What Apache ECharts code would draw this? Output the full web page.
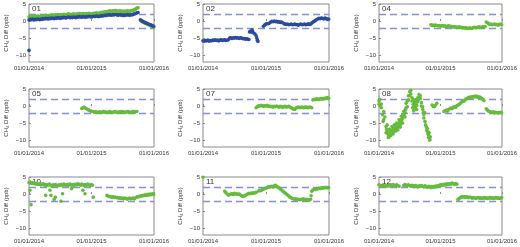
<!DOCTYPE html>
<html>
<head>
<meta charset="utf-8">
<script src="https://cdn.jsdelivr.net/npm/echarts@6/dist/echarts.min.js"></script>
<style>
  html, body { margin: 0; padding: 0; background: #fff; }
  #main { width: 520px; height: 247px; }
</style>
</head>
<body>
<div id="main"></div>
<script>
// weekly samples, index 0 = 01/01/2014
const xTicks = [Date.UTC(2014, 0, 1), Date.UTC(2015, 0, 1), Date.UTC(2016, 0, 1)];
const xTickLabels = ['01/01/2014', '01/01/2015', '01/01/2016'];
const yTicks = [-10, -5, 0, 5];
const limits = [2, -2];
const panelLabels = ['01', '02', '04', '05', '07', '08', '10', '11', '12'];

const p01Green = [1.2,1.4,1.3,1.5,1.2,1.4,1.3,1.5,1.4,1.3,1.5,
  1.4,1.6,1.5,1.7,1.6,1.5,1.7,1.6,1.8,1.7,1.6,1.8,1.7,1.9,1.8,
  1.7,1.9,1.8,2.0,1.9,1.8,2.0,2.1,1.9,2.0,1.9,2.1,2.0,1.9,2.1,2.0,2.2,2.1,2.0,2.2,2.1,2.0,2.2,2.1,2.3,2.2,2.1,
  2.2,2.3,2.2,2.4,2.3,2.2,2.4,2.4,2.6,2.5,2.7,2.6,2.8,2.8,3.0,2.9,2.8,3.0,
  2.9,3.1,3.0,2.8,2.9,3.0,2.8,2.9,2.7,2.9,2.8,3.0,2.9,2.8,3.0,3.0,3.2,3.3,3.5,3.8,
  3.9,null,0.2,-0.1,-0.3,-0.5,-0.7,-0.8,-1.0,-1.1,-1.3,-1.5,-1.7,-1.9];
const p01Blue = [0.3,0.5,0.4,0.6,0.3,0.5,0.4,0.6,0.5,0.4,0.6,
  0.5,0.7,0.6,0.8,0.7,0.6,0.8,0.7,0.9,0.8,0.7,0.9,0.8,1.0,0.9,
  0.8,1.0,0.9,1.1,1.0,0.9,1.1,1.2,1.0,1.1,1.0,1.2,1.1,1.0,1.2,1.1,1.3,1.2,1.1,1.3,1.2,1.1,1.3,1.2,1.4,1.3,1.2,
  1.3,1.4,1.3,1.5,1.4,1.3,1.5,1.4,1.6,1.5,1.7,1.6,1.8,1.7,1.9,1.8,1.7,1.9,
  1.8,2.0,1.9,1.7,1.8,1.9,1.7,1.8,1.6,1.8,1.7,1.9,1.8,1.7,1.9,1.8,2.0,2.1,2.2,2.4,
  2.5,null,0.4,0.1,-0.1,-0.3,-0.5,-0.6,-0.8,-0.9,-1.1,-1.2,-1.4,-1.5];
const p01BlueOut = [[0, -8.6]];

const p02Blue = [-5.8,-5.9,-5.7,-5.8,-5.6,-5.9,-5.7,-5.8,-5.6,-5.7,-5.5,-5.7,-5.6,-5.8,-5.6,-5.5,-5.7,-5.6,-5.5,-5.7,-5.6,-5.5,
  -5.0,-4.9,-5.1,-4.9,-5.0,-4.8,-5.0,-4.9,-5.1,-4.9,-5.0,-5.2,-5.1,-5.3,-5.2,
  -5.3,-5.4,-3.0,-3.3,-2.9,-3.5,-3.8,-4.3,-5.6,null,
  null,null,null,
  -1.5,-1.2,-0.9,-0.7,-0.8,-0.6,
  -0.3,-0.1,-0.2,0.0,-0.2,-0.1,-0.3,-0.2,-0.4,-0.3,-0.5,
  -0.8,-0.9,-1.0,-0.9,-1.1,-1.0,-0.9,-1.1,-1.0,-0.9,-1.1,-1.0,-1.2,-1.0,-0.9,-1.1,-1.0,-0.9,-1.1,-1.0,-0.8,-1.0,-0.9,
  -0.6,-0.3,-0.1,0.2,0.4,
  0.6,0.8,0.7,0.9,0.8,0.6,0.9,0.7,0.5,0.6];
const p02Out = [[38.5, -3.2], [40.5, -2.6], [44.5, -5.0], [45.5, -6.0]];

const p04Start = 44;
const p04 = [-1.1,-1.3,-1.2,-1.4,-1.2,-1.3,-1.4,-1.3,-1.5,-1.4,-1.3,-1.5,-1.4,-1.6,-1.5,-1.4,-1.6,-1.5,-1.7,
  -1.6,-1.8,-1.7,-1.9,-1.8,-1.7,-1.9,-1.8,-2.0,-1.9,-2.1,-2.0,-2.2,-2.1,-2.0,-2.2,-2.1,
  -1.9,-1.8,-2.0,-1.8,-1.9,-1.7,-1.8,-1.9,-1.7,-1.8,-1.6,
  -0.3,-0.5,-0.8,-1.0,-0.9,-1.1,-1.0,-0.9,-1.1,-1.0,-1.2,-1.0,-0.9,-1.1];

const p05Start = 44;
const p05 = [-0.7,-0.5,-0.4,-0.6,-0.8,-1.0,-1.2,-1.4,-1.5,-1.6,-1.7,-1.8,-1.7,
  -1.9,-1.8,-1.7,-1.9,-1.8,-1.6,-1.8,-1.7,-1.9,-1.8,-1.6,-1.7,-1.9,-1.8,-1.7,-1.6,-1.8,-1.9,-1.7,-1.8,-1.6,-1.8,-1.7,-1.9,-1.8,-1.6,-1.7,-1.8,-1.9,-1.7,-1.6,-1.8,-1.7,-1.6];

const p07Start = 44;
const p07 = [-0.5,-0.2,0.1,
  0.0,0.2,0.1,-0.1,0.1,0.0,0.2,-0.1,0.0,
  -0.2,-0.1,-0.3,-0.1,-0.2,0.0,-0.2,-0.3,-0.1,-0.2,-0.4,-0.2,-0.1,-0.3,-0.2,-0.1,-0.3,-0.5,-0.7,-0.9,-1.0,-0.6,
  -0.4,-0.3,-0.5,-0.4,-0.3,-0.5,-0.4,-0.3,-0.4,-0.5,-0.3,-0.4,-0.5,
  1.8,2.0,1.9,2.1,2.0,1.9,2.1,2.2,2.0,2.3,2.2,2.4,2.5,2.3];

const p08 = [1.5,
  0.3,-0.5,-2.5,-4.0,-3.2,
  -6.0,-7.5,-8.8,-8.5,-7.8,-7.2,-7.5,-6.8,-6.3,-6.6,-5.8,-5.2,-5.5,-4.2,-3.5,-2.8,-1.8,-0.5,1.5,3.0,4.2,3.5,
  1.5,0.5,0.0,0.8,0.2,2.5,3.4,2.2,1.0,
  -1.0,-2.5,-4.5,-6.0,-7.5,-8.5,-9.6,
  null,
  0.3,-0.1,-0.2,0.3,0.8,
  null,null,null,null,null,
  -1.6,-1.4,-1.2,-1.5,-1.0,-0.8,
  -0.6,-0.8,-0.4,-0.2,-0.4,0.1,0.3,0.5,0.8,
  1.2,1.5,1.4,1.8,2.1,2.3,2.6,2.4,2.7,2.6,2.8,
  2.7,2.9,2.6,2.8,2.5,2.6,2.3,2.0,1.6,
  null,
  -0.8,-1.2,-1.5,-1.6,
  -1.8,-1.9,-1.7,-2.0,-1.8,-1.9,-2.1,-1.9,-1.8,-2.0];
const p08Out = [[0, 0.5], [0.5, 2.0], [2, 0.6], [3.5, -4.5], [4, -1.6],
  [6, -7.8], [6.5, -6.8], [7, -5.5], [7.5, -8.2], [8, -9.2], [8.5, -9.0], [9, -6.8], [9.5, -7.2], [10, -8.6], [10.5, -7.0],
  [11, -6.0], [11.5, -7.8], [12, -8.2], [12.5, -6.5], [13, -5.5], [13.5, -7.0], [14, -7.4], [14.5, -5.8], [15, -5.0], [15.5, -6.2],
  [16, -7.0], [16.5, -5.5], [17, -4.0], [17.5, -4.8], [18, -6.2], [18.5, -5.0], [19, -3.0], [19.5, -3.8], [20, -5.0], [20.5, -2.5],
  [21, -1.5], [21.5, -2.2], [22, -3.2], [22.5, -1.0], [23, 0.8], [24, -0.2], [25, 1.8], [26, 3.0], [27, 4.6],
  [28, 2.4], [28.5, -0.5], [29, 1.8], [29.5, -1.4], [30, 1.2], [30.5, -0.8], [31, -0.3], [31.5, 1.9], [32, -1.0], [32.5, 1.2],
  [33, 1.5], [34, 2.0], [35, 3.0], [36, 0.0],
  [37, -0.2], [37.5, -2.0], [38, -3.5], [38.5, -1.8], [39.5, -5.5], [40.5, -7.0], [41, -6.5], [41.5, -8.2], [42, -9.2], [42.5, -7.8],
  [43, -10.0], [43.5, -9.0]];

const p10a = [3.3,3.5,3.1,3.3,3.0,3.2,2.9,3.1,2.8,3.0,2.7,2.9,3.0,2.6,2.8,2.5,2.7,2.9,2.6,2.4,
  2.7,2.5,2.8,2.6,2.4,2.7,2.5,2.8,2.6,2.9,2.7,2.5,2.8,2.6,2.9,2.7,2.5,2.8,2.6,2.9,
  2.7,3.0,2.8,2.6,2.9,2.7,2.5,2.8,2.6,2.9,2.7,2.5,2.8,2.6];
const p10bStart = 65;
const p10b = [-0.4,-0.6,-0.8,-0.7,-0.9,-0.8,-1.0,-0.9,-1.1,-1.0,-1.2,-1.1,-1.3,-1.2,-1.4,-1.2,-1.3,-1.5,-1.3,-1.2,
  -1.4,-1.3,-1.2,-1.4,-1.1,-0.9,-0.7,-0.8,-0.5,-0.6,-0.4,-0.5,-0.2,-0.4,-0.1,-0.3,0.0,-0.2,0.1,-0.1];
const p10Out = [[0.8, 1.1], [1.7, -3.1], [13.9, -0.4], [17.5, 1.1], [18.3, -0.4], [21, -1.6], [22, -0.9],
  [26.7, -2.1], [28, 0.1], [35.5, 1.6], [45, 1.1], [46.7, 0.1], [53.6, -0.9]];

const p11Start = 18;
const p11 = [0.8,0.4,0.0,-0.3,-0.2,
  0.0,0.1,-0.1,0.2,0.0,0.1,-0.1,0.0,-0.3,-0.5,
  -0.7,-0.6,-0.4,-0.2,
  0.0,0.2,0.1,0.3,0.2,0.4,0.3,0.5,
  null,
  0.9,1.1,1.0,1.3,1.4,1.6,1.7,1.9,
  2.1,2.0,2.2,2.3,2.1,2.4,2.6,2.3,
  2.0,1.8,1.5,1.2,0.9,0.6,0.3,
  0.0,-0.3,-0.6,-0.9,-1.1,-1.3,-1.4,
  -1.5,-1.4,-1.6,-1.5,-1.7,-1.5,-1.6,-1.4,-1.6,-1.7,-1.5,-1.6,-1.8,-1.5,
  0.8,1.2,
  1.4,1.3,1.6,1.5,1.7,1.6,1.8,1.7,1.9,1.8,2.0,1.8,1.9];
const p11Out = [[0, 4.9], [89.5, -0.5]];

const p12a = [2.7,2.5,2.3,2.6,2.4,2.2,2.5,2.3,2.6,2.4,2.7,2.5,2.8,2.6,2.4,2.7,2.5,2.3];
const p12bStart = 21;
const p12b = [2.5,2.8,2.6,2.4,2.7,2.5,2.3,2.6,2.4,2.2,2.5,2.3,2.1,2.4,2.2,2.5,2.3,2.1,2.4,2.2,
  2.0,2.3,2.1,1.9,2.2,2.0,2.3,2.1,2.4,2.2,2.5,2.7,2.5,2.8,2.6,2.9,2.7,3.0,2.8,3.1,
  2.9,3.2,3.0,2.8,3.1,2.9];
const p12cStart = 67;
const p12c = [-1.6,-1.3,-1.0,-0.8,-0.9,-0.7,-1.0,-0.8,-0.9,-1.1,-0.9,-1.0,-1.2,-1.0,-1.1,-1.3,-1.1,-1.0,-1.2,-1.1,
  -1.3,-1.2,-1.0,-1.2,-1.1,-1.3,-1.2,-1.0,-1.2,-1.1,-1.3,-1.2,-1.0,-1.2,-1.1,-1.3,-1.2,-1.0];

const GREEN = '#66bb3c';
const BLUE = '#2b4b9e';
const DASH = '#8891d0';
const FONT = 'Liberation Sans, Arial, sans-serif';
const WEEK = 7 * 864e5;

function weekly(start, vals) {
  const out = [];
  vals.forEach((v, i) => { if (v != null) out.push([xTicks[0] + (start + i) * WEEK, v]); });
  return out;
}
function loose(list) {
  return list.map(p => [xTicks[0] + p[0] * WEEK, p[1]]);
}

// each panel: list of [colour, points]
const panelData = [
  [[GREEN, weekly(0, p01Green)], [BLUE, weekly(0, p01Blue)], [BLUE, loose(p01BlueOut)]],
  [[BLUE, weekly(0, p02Blue)], [BLUE, loose(p02Out)]],
  [[GREEN, weekly(p04Start, p04)]],
  [[GREEN, weekly(p05Start, p05)]],
  [[GREEN, weekly(p07Start, p07)]],
  [[GREEN, weekly(0, p08)], [GREEN, loose(p08Out)]],
  [[GREEN, weekly(0, p10a)], [GREEN, weekly(p10bStart, p10b)], [GREEN, loose(p10Out)]],
  [[GREEN, weekly(p11Start, p11)], [GREEN, loose(p11Out)]],
  [[GREEN, weekly(0, p12a)], [GREEN, weekly(p12bStart, p12b)], [GREEN, weekly(p12cStart, p12c)]]
];

const lefts = [29, 203, 379];
const widths = [125, 126, 125];
const tops = [4, 89, 177];
const H = 58;

var myChart = echarts.init(document.getElementById('main'));

var option = {
  animation: false,
  grid: [], xAxis: [], yAxis: [], series: [], graphic: []
};

panelLabels.forEach((label, i) => {
  const col = i % 3, row = Math.floor(i / 3);
  option.grid.push({
    left: lefts[col], top: tops[row], width: widths[col], height: H,
    show: true, borderColor: '#888', borderWidth: 1
  });
  option.xAxis.push({
    type: 'value', gridIndex: i, min: xTicks[0], max: xTicks[2],
    axisLine: { show: false },
    axisTick: { inside: true, length: 2, customValues: xTicks, lineStyle: { color: '#888' } },
    axisLabel: {
      customValues: xTicks, fontSize: 6, color: '#333', margin: 3, fontFamily: FONT,
      formatter: v => xTickLabels[xTicks.indexOf(v)]
    },
    splitLine: { show: false }
  });
  option.yAxis.push({
    type: 'value', gridIndex: i, min: -12, max: 5,
    name: 'CH\u2084 Diff (ppb)', nameLocation: 'middle', nameGap: 20,
    nameTextStyle: { fontSize: 6, color: '#333', fontFamily: FONT },
    axisLine: { show: false },
    axisTick: { inside: true, length: 2, customValues: yTicks, lineStyle: { color: '#888' } },
    axisLabel: {
      customValues: yTicks, fontSize: 6, color: '#333', margin: 3, fontFamily: FONT,
      formatter: v => String(v).replace('-', '\u2212')
    },
    splitLine: { show: false }
  });
  panelData[i].forEach((set, k) => {
    const s = {
      type: 'scatter', xAxisIndex: i, yAxisIndex: i, z: 2,
      symbol: 'circle', symbolSize: 3.6,
      itemStyle: { color: set[0], opacity: 1 },
      data: set[1]
    };
    if (k === 0) {
      s.markLine = {
        silent: true, symbol: 'none', z: 1, label: { show: false },
        lineStyle: { color: DASH, type: [7, 4], width: 1.3 },
        data: limits.map(y => ({ yAxis: y }))
      };
    }
    option.series.push(s);
  });
  option.graphic.push({
    type: 'text', left: lefts[col] + 3, top: tops[row] + 1, z: 0,
    style: { text: label, fontSize: 8, fontFamily: FONT, fill: '#333' }
  });
});

myChart.setOption(option);
</script>
</body>
</html>
